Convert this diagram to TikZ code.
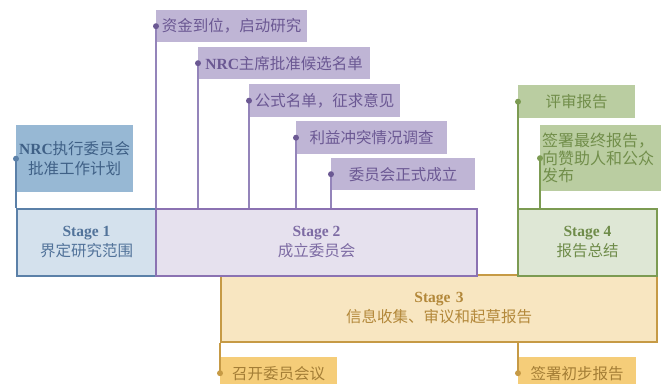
\documentclass[tikz,border=0pt]{standalone}
\usepackage{fontspec}
\setmainfont{Liberation Serif}
\newfontfamily\cjk{Noto Sans CJK SC}
\definecolor{sAfill}{HTML}{D4E1ED}
\definecolor{sAline}{HTML}{5B80A8}
\definecolor{sAtext}{HTML}{52739A}
\definecolor{nrcfill}{HTML}{97B8D4}
\definecolor{nrctext}{HTML}{3F6086}
\definecolor{sBfill}{HTML}{E6E1EE}
\definecolor{sBline}{HTML}{8B72B2}
\definecolor{sBtext}{HTML}{7D6BA3}
\definecolor{pfill}{HTML}{BFB5D5}
\definecolor{ptext}{HTML}{6B5893}
\definecolor{pline}{HTML}{9484BA}
\definecolor{sCfill}{HTML}{F8E6C1}
\definecolor{sCline}{HTML}{C69A45}
\definecolor{sCtext}{HTML}{B3883A}
\definecolor{yfill}{HTML}{F5CD79}
\definecolor{ytext}{HTML}{A47E36}
\definecolor{sDfill}{HTML}{DEE7D5}
\definecolor{sDline}{HTML}{7C9B52}
\definecolor{sDtext}{HTML}{6F8C4A}
\definecolor{gfill}{HTML}{BACDA1}
\definecolor{gtext}{HTML}{718E4A}
\begin{document}
\begin{tikzpicture}[x=1pt,y=-1pt,
  every node/.style={inner sep=0pt, font=\fontsize{15.5}{20}\selectfont},
  stagebox/.style={draw, line width=2pt, align=center, anchor=north west},
  lbl/.style={anchor=north west, align=center},
  conn/.style={line width=1.3pt},
  dotc/.style={circle, fill, inner sep=0pt, minimum size=6pt}]
\useasboundingbox (0,0) rectangle (661,383);
\begin{scope}
\clip (0,0) rectangle (661,383);
% Stage 3 first (under others)
\node[stagebox, draw=sCline, fill=sCfill, text=sCtext, minimum width=436pt, minimum height=67pt] (s3) at (220,274) {\textbf{Stage\,\,3}\\{\cjk 信息收集、审议和起草报告}};
\node[stagebox, draw=sAline, fill=sAfill, text=sAtext, minimum width=140pt, minimum height=67pt] (s1) at (15.5,207.5) {\textbf{Stage 1}\\{\cjk 界定研究范围}};
\node[stagebox, draw=sBline, fill=sBfill, text=sBtext, minimum width=321pt, minimum height=67pt] (s2) at (155,207.5) {\textbf{Stage 2}\\{\cjk 成立委员会}};
\node[stagebox, draw=sDline, fill=sDfill, text=sDtext, minimum width=139pt, minimum height=67pt] (s4) at (517,207.5) {\textbf{Stage 4}\\{\cjk 报告总结}};

% Stage 1 label
\node[lbl, fill=nrcfill, text=nrctext, minimum width=117pt, minimum height=67pt] (b1) at (16,125) {\textbf{NRC}{\cjk 执行委员会}\\{\cjk 批准工作计划}};

% Stage 2 labels
\node[lbl, fill=pfill, text=ptext, minimum width=151pt, minimum height=32pt] (p1) at (156,10) {{\cjk 资金到位，启动研究}};
\node[lbl, fill=pfill, text=ptext, minimum width=172pt, minimum height=32pt] (p2) at (198,47) {\textbf{NRC}{\cjk 主席批准候选名单}};
\node[lbl, fill=pfill, text=ptext, minimum width=151pt, minimum height=33pt] (p3) at (249,84) {{\cjk 公式名单，征求意见}};
\node[lbl, fill=pfill, text=ptext, minimum width=151pt, minimum height=33pt] (p4) at (296,121) {{\cjk 利益冲突情况调查}};
\node[lbl, fill=pfill, text=ptext, minimum width=144pt, minimum height=32pt] (p5) at (331,158) {{\cjk 委员会正式成立}};

% Stage 4 labels
\node[lbl, fill=gfill, text=gtext, minimum width=117pt, minimum height=33pt] (g1) at (518,85) {{\cjk 评审报告}};
\node[anchor=north west, fill=gfill, text=gtext, minimum width=121pt, minimum height=66pt, align=left, inner xsep=2pt, text width=117pt, font=\fontsize{16}{17.5}\selectfont] (g2) at (540,125) {{\cjk 签署最终报告，}\\{\cjk 向赞助人和公众}\\{\cjk 发布}};

% Stage 3 labels
\node[lbl, fill=yfill, text=ytext, minimum width=117pt, minimum height=32pt] (y1) at (220,357) {{\cjk 召开委员会议}};
\node[lbl, fill=yfill, text=ytext, minimum width=118pt, minimum height=32pt] (y2) at (518,357) {{\cjk 签署初步报告}};

% connectors
\draw[conn, draw=sAline] (b1.west) -- (b1.west |- s1.north);
\foreach \n in {p1,p2,p3,p4,p5}{
  \draw[conn, draw=pline] (\n.west) -- (\n.west |- s2.north);
  \node[dotc, fill=ptext] at (\n.west) {};
}
\foreach \n in {g1,g2}{
  \draw[conn, draw=sDline] (\n.west) -- (\n.west |- s4.north);
  \node[dotc, fill=sDline] at (\n.west) {};
}
\foreach \n in {y1,y2}{
  \draw[conn, draw=sCline] (s3.south -| \n.west) -- (\n.west);
  \node[dotc, fill=sCline] at (\n.west) {};
}
\node[dotc, fill=sAline] at (b1.west) {};
\end{scope}
\end{tikzpicture}
\end{document}
